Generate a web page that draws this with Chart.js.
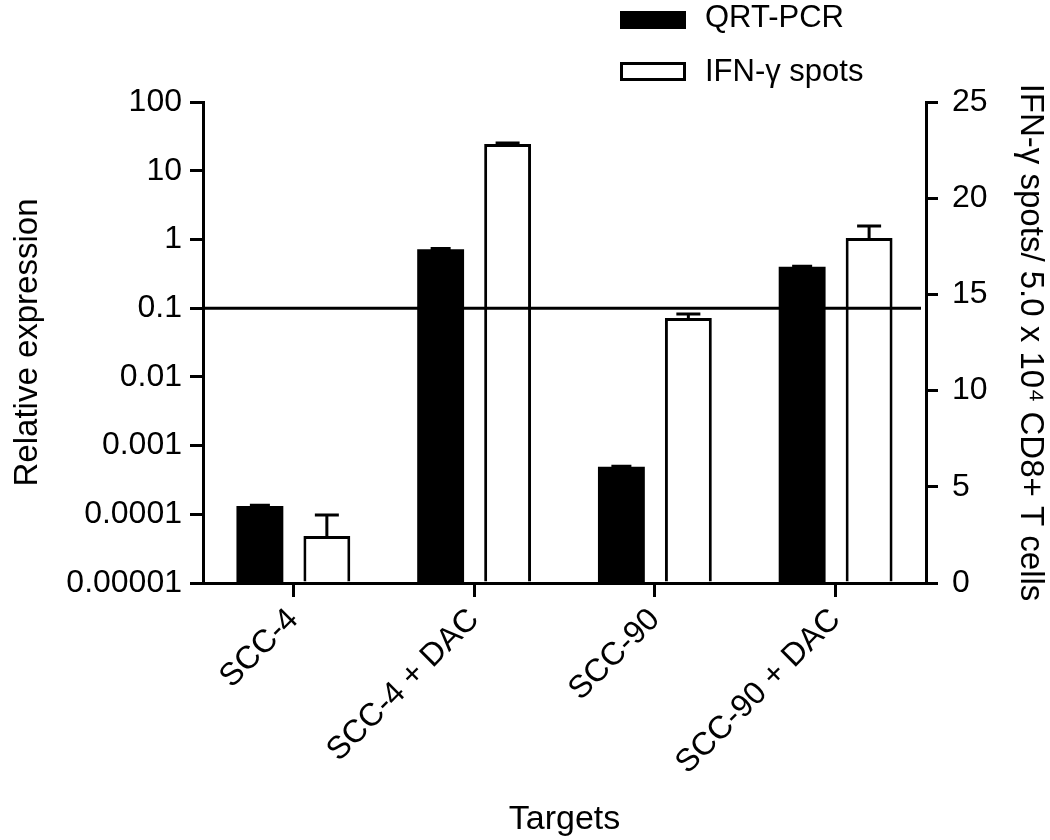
<!DOCTYPE html>
<html>
<head>
<meta charset="utf-8">
<script src="https://cdn.jsdelivr.net/npm/chart.js@4.4.0/dist/chart.umd.min.js"></script>
<style>
  body { margin: 0; background: #fff; }
  #wrap { width: 1050px; height: 840px; }
</style>
</head>
<body>
<div id="wrap"><canvas id="myChart" width="1050" height="840"></canvas></div>
<script>
// data
const targets = ['SCC-4', 'SCC-4 + DAC', 'SCC-90', 'SCC-90 + DAC'];
const qrtPcr = [0.000132, 0.72, 0.00049, 0.40];
const qrtErr = [0.000003, 0.015, 0.00001, 0.008];
const ifnSpots = [2.44, 22.82, 13.77, 17.93];
const ifnErr = [1.09, 0.05, 0.21, 0.62];
const leftTicks = [0.00001, 0.0001, 0.001, 0.01, 0.1, 1, 10, 100];
const leftTickLabels = ['0.00001', '0.0001', '0.001', '0.01', '0.1', '1', '10', '100'];
const rightTicks = [0, 5, 10, 15, 20, 25];
const cutoff = 0.1;

const FONT = "'Liberation Sans', Arial, sans-serif";

function drawErr(ctx, bar, top, half) {
    ctx.beginPath();
    ctx.moveTo(bar.x, bar.y);
    ctx.lineTo(bar.x, top);
    ctx.moveTo(bar.x - half, top);
    ctx.lineTo(bar.x + half, top);
    ctx.stroke();
}

// error bars (upward only) + the 0.1 reference line
const extras = {
    id: 'extras',
    afterDatasetsDraw(chart) {
        const ctx = chart.ctx;
        const yR = chart.scales.yR;
        const yL = chart.scales.yL;
        const area = chart.chartArea;
        ctx.save();
        ctx.strokeStyle = '#000';
        ctx.lineWidth = 3;
        chart.getDatasetMeta(0).data.forEach((bar, i) => {
            drawErr(ctx, bar, yL.getPixelForValue(qrtPcr[i] + qrtErr[i]), 10);
        });
        chart.getDatasetMeta(1).data.forEach((bar, i) => {
            drawErr(ctx, bar, yR.getPixelForValue(ifnSpots[i] + ifnErr[i]), 12);
        });
        const yc = yL.getPixelForValue(cutoff);
        ctx.beginPath();
        ctx.moveTo(area.left, yc);
        ctx.lineTo(area.right - 5, yc);
        ctx.stroke();
        ctx.restore();
    },
    afterDraw(chart) {
        // legend, stacked like the original
        const ctx = chart.ctx;
        ctx.save();
        ctx.font = '31px ' + FONT;
        ctx.fillStyle = '#000';
        ctx.textBaseline = 'middle';
        ctx.fillRect(620, 11, 66, 18);
        ctx.fillText('QRT-PCR', 705, 18);
        ctx.lineWidth = 3;
        ctx.strokeStyle = '#000';
        ctx.strokeRect(621.5, 63.5, 63, 16);
        ctx.fillText('IFN-\u03b3 spots', 705, 72);
        ctx.restore();
    }
};

const ctx = document.getElementById('myChart').getContext('2d');
const myChart = new Chart(ctx, {
    type: 'bar',
    data: {
        labels: targets,
        datasets: [{
            label: 'QRT-PCR',
            data: qrtPcr,
            yAxisID: 'yL',
            backgroundColor: '#000',
            borderWidth: 0,
            categoryPercentage: 0.741,
            barPercentage: 0.70
        }, {
            label: 'IFN-\u03b3 spots',
            data: ifnSpots,
            yAxisID: 'yR',
            backgroundColor: '#fff',
            borderColor: '#000',
            borderWidth: 3,
            categoryPercentage: 0.741,
            barPercentage: 0.70
        }]
    },
    options: {
        responsive: false,
        animation: false,
        layout: { padding: { top: 102, left: 0, right: 0, bottom: 0 } },
        plugins: {
            legend: { display: false },
            tooltip: { enabled: false }
        },
        scales: {
            x: {
                offset: true,
                grid: { display: true, drawOnChartArea: false, drawTicks: true, tickLength: 14, offset: false, color: '#000', lineWidth: 3 },
                border: { display: true, color: '#000', width: 3 },
                ticks: { color: '#000', font: { family: FONT, size: 32 }, minRotation: 45, maxRotation: 45, autoSkip: false, padding: 4 },
                title: { display: true, text: 'Targets', color: '#000', font: { family: FONT, size: 34 }, padding: { top: 1, bottom: 0 } },
                afterFit(scale) { scale.height = 257; }
            },
            yL: {
                type: 'logarithmic',
                position: 'left',
                min: 0.00001,
                max: 100,
                grid: { drawOnChartArea: false, drawTicks: true, tickLength: 13, color: '#000', lineWidth: 3 },
                border: { display: true, color: '#000', width: 3 },
                afterBuildTicks(scale) { scale.ticks = leftTicks.map(v => ({ value: v })); },
                ticks: {
                    color: '#000', font: { family: FONT, size: 32 }, padding: 8,
                    callback: (v) => leftTickLabels[leftTicks.indexOf(v)] ?? ''
                },
                title: { display: true, text: 'Relative expression', color: '#000', font: { family: FONT, size: 33 }, padding: { top: 8, bottom: 0 } },
                afterFit(scale) { scale.width = 203; }
            },
            yR: {
                type: 'linear',
                position: 'right',
                min: 0,
                max: 25,
                grid: { drawOnChartArea: false, drawTicks: true, tickLength: 12, color: '#000', lineWidth: 3 },
                border: { display: true, color: '#000', width: 3 },
                afterBuildTicks(scale) { scale.ticks = rightTicks.map(v => ({ value: v })); },
                ticks: { color: '#000', font: { family: FONT, size: 32 }, padding: 14 },
                title: { display: true, text: 'IFN-\u03b3 spots/ 5.0 x 10\u2074 CD8+ T cells', color: '#000', font: { family: FONT, size: 33 }, padding: { top: 0, bottom: 0 } },
                afterFit(scale) { scale.width = 124; }
            }
        }
    },
    plugins: [extras]
});
</script>
</body>
</html>
